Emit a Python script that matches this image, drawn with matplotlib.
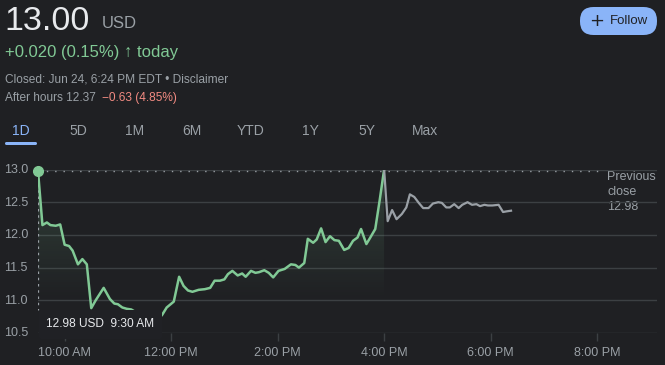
import matplotlib
matplotlib.use("Agg")
import matplotlib.pyplot as plt
import numpy as np
from matplotlib.patches import FancyBboxPatch
from matplotlib.path import Path
from matplotlib.patches import PathPatch

# ---------------- data ----------------
reg_times = ["9:30", "9:35", "9:40", "9:44", "9:50", "9:55", "10:00", "10:05", "10:09",
             "10:15", "10:20", "10:25", "10:30", "10:35", "10:44", "10:51", "10:56", "11:00",
             "11:05", "11:10", "11:15", "11:20", "11:25", "11:30", "11:35", "11:40", "11:45",
             "11:50", "11:55", "12:03", "12:09", "12:14", "12:19", "12:24", "12:31", "12:38",
             "12:44", "12:49", "12:55", "13:00", "13:04", "13:09", "13:15", "13:20", "13:24",
             "13:30", "13:35", "13:39", "13:45", "13:50", "13:55", "14:01", "14:08", "14:15",
             "14:20", "14:24", "14:30", "14:34", "14:40", "14:44", "14:49", "14:54", "14:59",
             "15:04", "15:09", "15:15", "15:20", "15:25", "15:30", "15:34", "15:40", "15:44",
             "15:50", "15:55", "16:00"]
reg_prices = [12.98, 12.15, 12.19, 12.15, 12.14, 12.16, 11.85, 11.83, 11.76,
              11.55, 11.63, 11.55, 10.88, 11.00, 11.19, 11.02, 10.95, 10.94,
              10.89, 10.87, 10.86, 10.82, 10.76, 10.72, 10.68, 10.66, 10.70,
              10.78, 10.89, 10.98, 11.36, 11.22, 11.15, 11.13, 11.16, 11.17,
              11.19, 11.30, 11.30, 11.32, 11.40, 11.45, 11.38, 11.41, 11.36,
              11.45, 11.42, 11.43, 11.46, 11.42, 11.35, 11.45, 11.48, 11.55,
              11.54, 11.50, 11.57, 11.94, 11.88, 11.93, 12.10, 11.89, 11.98,
              11.92, 11.91, 11.77, 11.80, 11.91, 11.96, 12.09, 11.86, 11.95,
              12.09, 12.53, 13.00]
ah_times = ["16:00", "16:04", "16:09", "16:14", "16:20", "16:25", "16:29", "16:34", "16:39",
            "16:44", "16:50", "16:55", "17:01", "17:05", "17:10", "17:14", "17:19", "17:24",
            "17:28", "17:34", "17:39", "17:44", "17:48", "17:53", "17:57", "18:02", "18:09",
            "18:14", "18:18", "18:23"]
ah_prices = [13.00, 12.21, 12.38, 12.24, 12.32, 12.42, 12.62, 12.58, 12.49,
             12.41, 12.41, 12.48, 12.50, 12.49, 12.42, 12.42, 12.47, 12.41,
             12.46, 12.50, 12.46, 12.47, 12.44, 12.46, 12.45, 12.45, 12.46,
             12.35, 12.36, 12.37]
prev_close = 12.98
y_ticks = [10.5, 11.0, 11.5, 12.0, 12.5, 13.0]
x_tick_times = ["10:00", "12:00", "14:00", "16:00", "18:00", "20:00"]
x_tick_labels = ["10:00 AM", "12:00 PM", "2:00 PM", "4:00 PM", "6:00 PM", "8:00 PM"]
tabs = ["1D", "5D", "1M", "6M", "YTD", "1Y", "5Y", "Max"]


def to_min(s):
    h, m = s.split(":")
    return int(h) * 60 + int(m)


rt = np.array([to_min(s) for s in reg_times], float)
rp = np.array(reg_prices)
at = np.array([to_min(s) for s in ah_times], float)
ap = np.array(ah_prices)
xt = [to_min(s) for s in x_tick_times]

# ---------------- style ----------------
BG = "#1f2023"
GRID = "#3c4043"
GREEN = "#81c995"
GRAY_LINE = "#9aa0a6"
TXT = "#e8eaed"
SUB = "#9aa0a6"
RED = "#f28b82"
BLUE = "#8ab4f8"
FONT = ["Liberation Sans", "DejaVu Sans"]
plt.rcParams["font.family"] = FONT

W, H = 665, 365
fig = plt.figure(figsize=(W / 100, H / 100), dpi=100, facecolor=BG)

# overlay in pixel coordinates (top-left origin) for header decorations
ov = fig.add_axes([0, 0, 1, 1], zorder=0)
ov.set_xlim(0, W)
ov.set_ylim(H, 0)
ov.axis("off")


def ptext(x, y, s, **kw):
    return ov.text(x, y, s, **kw)


# ---------------- header ----------------
ptext(4, 30, "13.00", fontsize=24.5, color=TXT, va="baseline")
ptext(102, 28, "USD", fontsize=12, color=SUB, va="baseline")
ptext(5, 57, "+0.020 (0.15%) \u2191 today", fontsize=12, color=GREEN, va="baseline")
ptext(5, 82, "Closed: Jun 24, 6:24 PM EDT \u2022 Disclaimer", fontsize=8.6, color=SUB, va="baseline")
ptext(5, 101, "After hours 12.37 ", fontsize=8.6, color=SUB, va="baseline")
ptext(102, 101, "\u22120.63 (4.85%)", fontsize=8.6, color=RED, va="baseline")

# Follow button
ov.add_patch(FancyBboxPatch((580, 7), 77, 28, boxstyle="round,pad=0,rounding_size=13.5",
                            facecolor=BLUE, edgecolor="none"))
ptext(597, 21, "+", fontsize=13, color="#202124", va="center", ha="center",
      family=["DejaVu Sans"])
ptext(610, 21, "Follow", fontsize=9.5, color="#202124", va="center")

# Tabs
tab_x = [21, 78, 135, 192, 251, 310, 367, 425]
for name, x in zip(tabs, tab_x):
    ptext(x, 131, name, fontsize=10, color=BLUE if name == "1D" else SUB,
          ha="center", va="center")
ov.add_patch(FancyBboxPatch((5, 142), 32, 3, boxstyle="round,pad=0,rounding_size=1.5",
                            facecolor=BLUE, edgecolor="none"))

# ---------------- chart ----------------
x0_px, x1_px = 38, 657
top_px, bot_px = 169.5, 333
ax = fig.add_axes([x0_px / W, 1 - bot_px / H, (x1_px - x0_px) / W, (bot_px - top_px) / H],
                  zorder=1)
ax.patch.set_alpha(0)
tmin = to_min("9:30")
tmax = tmin + (x1_px - x0_px) * 60 / 53.25
ax.set_xlim(tmin, tmax)
ax.set_ylim(10.5, 13.0)
for s in ax.spines.values():
    s.set_visible(False)

for y in y_ticks:
    ax.axhline(y, color=GRID, lw=1.0, zorder=1)

# gradient fill under regular session line
verts = list(zip(rt, rp)) + [(rt[-1], 10.5), (rt[0], 10.5)]
path = Path(verts + [verts[0]], [Path.MOVETO] + [Path.LINETO] * (len(verts) - 1) + [Path.CLOSEPOLY])
clip = PathPatch(path, facecolor="none", edgecolor="none", transform=ax.transData)
ax.add_patch(clip)
n = 256
grad = np.zeros((n, 1, 4))
grad[:, 0, :3] = np.array([0x81, 0xc9, 0x95]) / 255
grad[:, 0, 3] = np.clip(np.linspace(0.2, -0.05, n), 0, None)
im = ax.imshow(grad, extent=[rt[0], rt[-1], 10.5, 13.0], origin="upper",
               aspect="auto", zorder=2, interpolation="bilinear")
im.set_clip_path(clip)

ax.plot(rt, rp, color=GREEN, lw=1.8, zorder=4, solid_joinstyle="round")
ax.plot(at, ap, color=GRAY_LINE, lw=1.6, zorder=4, solid_joinstyle="round")

# previous close dotted line
ax.plot([tmin, tmin + (600 - x0_px) * 60 / 53.25], [prev_close, prev_close],
        color="#9aa0a6", lw=1.0, ls=(0, (1, 5)), zorder=3)
# hover crosshair
ax.plot([rt[0], rt[0]], [rp[0], 10.85], color="#9aa0a6", lw=0.9, ls=(0, (2, 3)), zorder=3)
ax.plot([rt[0]], [rp[0]], "o", color=GREEN, ms=7, zorder=6, clip_on=False)

ax.set_yticks([])
ax.set_xticks(xt)
ax.set_xticklabels(x_tick_labels, color=SUB, fontsize=9)
ax.tick_params(axis="x", colors=GRID, length=6, width=1, pad=4, labelcolor=SUB)

for y in y_ticks:
    ptext(4, top_px + (13.0 - y) / 2.5 * (bot_px - top_px) + 0.5, f"{y:.1f}",
          fontsize=9, color=SUB, va="center")

ptext(607, 177, "Previous", fontsize=9, color=SUB, va="center")
ptext(607, 192, "close", fontsize=9, color=SUB, va="center")
ptext(607, 207, "12.98", fontsize=9, color=SUB, va="center")

# tooltip (drawn above the chart)
ov2 = fig.add_axes([0, 0, 1, 1], zorder=5)
ov2.set_xlim(0, W)
ov2.set_ylim(H, 0)
ov2.axis("off")
ov2.add_patch(FancyBboxPatch((39, 310), 123, 29, boxstyle="round,pad=0,rounding_size=2",
                             facecolor="#202125", edgecolor="none"))
ov2.text(46, 324, "12.98 USD  9:30 AM", fontsize=8.6, color=TXT, va="center")

fig.savefig("out.png", dpi=100, facecolor=BG)
